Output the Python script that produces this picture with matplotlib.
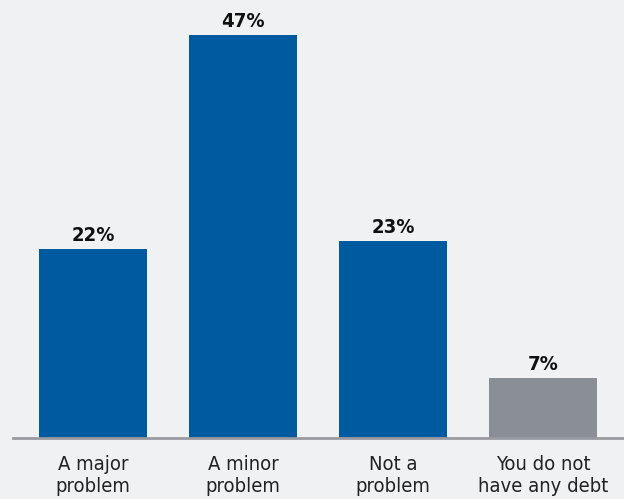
import matplotlib
matplotlib.use('Agg')
import matplotlib.pyplot as plt

categories = ['A major\nproblem', 'A minor\nproblem', 'Not a\nproblem', 'You do not\nhave any debt']
values = [22, 47, 23, 7]
value_labels = ['22%', '47%', '23%', '7%']
colors = ['#005a9f', '#005a9f', '#005a9f', '#8a8e97']

plt.rcParams['font.family'] = ['Liberation Sans Narrow', 'DejaVu Sans']
plt.rcParams['font.stretch'] = 'condensed'

bg = '#f0f1f3'
fig = plt.figure(figsize=(6.24, 4.99), dpi=100, facecolor=bg)
ax = fig.add_axes([13 / 624, 61 / 499, 611 / 624, 438 / 499], facecolor=bg)

x = list(range(len(values)))
bars = ax.bar(x, values, width=0.72, color=colors, zorder=2)

for rect, lab in zip(bars, value_labels):
    ax.text(rect.get_x() + rect.get_width() / 2, rect.get_height() + 0.45, lab,
            ha='center', va='bottom', fontsize=14.5, fontweight='bold', color='#111111')

ax.set_xlim(-0.5333, 3.54)
ax.set_ylim(0, 51.08)
ax.set_xticks(x)
ax.set_xticklabels(categories, fontsize=14.5, color='#222222', linespacing=1.25)
ax.tick_params(axis='x', length=0, pad=12)
ax.set_yticks([])
for s in ['top', 'right', 'left']:
    ax.spines[s].set_visible(False)
ax.spines['bottom'].set_color('#999ba0')
ax.spines['bottom'].set_linewidth(2)

fig.savefig('out.png', dpi=100, facecolor=bg)
